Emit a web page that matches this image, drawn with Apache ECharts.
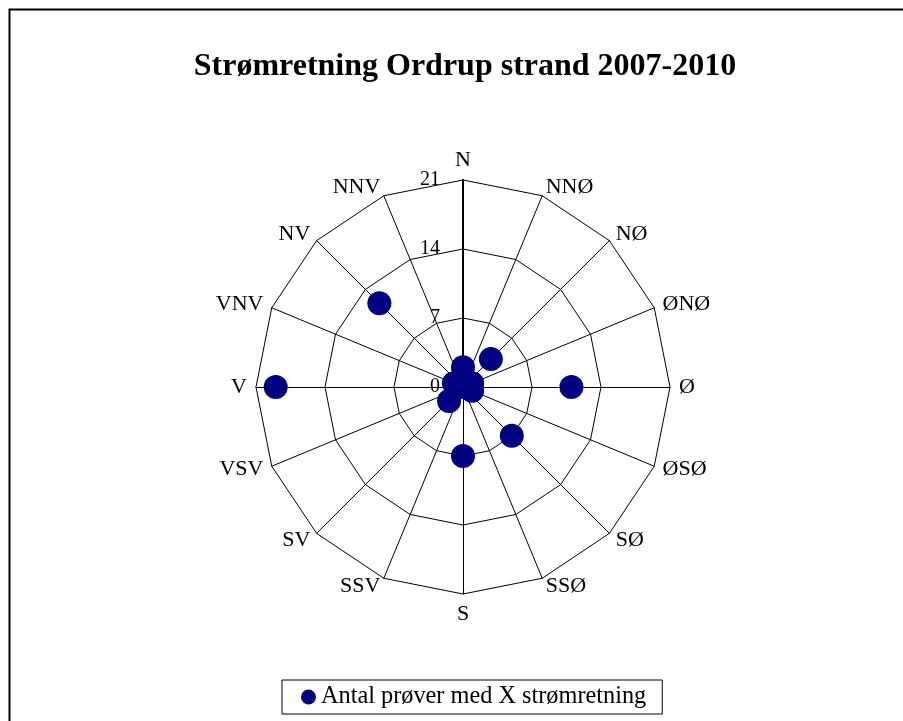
<!DOCTYPE html>
<html>
<head>
<meta charset="utf-8">
<script src="https://cdn.jsdelivr.net/npm/echarts@6/dist/echarts.min.js"></script>
<style>html,body{margin:0;padding:0;background:#fff}#c{width:903px;height:721px}</style>
</head>
<body>
<div id="c"></div>
<script>
// Directions, clockwise from north
var directions = ['N','NNØ','NØ','ØNØ','Ø','ØSØ','SØ','SSØ','S','SSV','SV','VSV','V','VNV','NV','NNV'];
// Number of samples per direction
var counts = [2,0,4,1,11,1,7,0,7,0,2,0,19,1,12,0];
var axisMax = 21;
var tickInterval = 7;
var seriesName = 'Antal prøver med X strømretning';
var titleText = 'Strømretning Ordrup strand 2007-2010';

var FONT = '"Liberation Serif", "Times New Roman", serif';
var CX = 463, CY = 387, R = 207;

// ECharts radar lays indicators counter-clockwise; reorder so they run clockwise
var order = [0];
for (var i = directions.length - 1; i >= 1; i--) order.push(i);
var indicators = order.map(function (k) { return { name: directions[k], max: axisMax, min: 0 }; });
var values = order.map(function (k) { return counts[k]; });

var chart = echarts.init(document.getElementById('c'), null, { renderer: 'canvas' });
chart.setOption({
  backgroundColor: '#fff',
  animation: false,
  graphic: [{
    type: 'rect', silent: true,
    shape: { x: 9.5, y: 9.5, width: 1200, height: 1200 },
    style: { fill: 'none', stroke: '#000', lineWidth: 2 }
  }],
  title: {
    text: titleText,
    left: 465, top: 51, textAlign: 'center', padding: 0,
    textStyle: { fontFamily: FONT, fontSize: 32, fontWeight: 'bold', color: '#000' }
  },
  legend: {
    data: [seriesName],
    left: 282, top: 680,
    padding: [5, 16, 5, 19],
    borderColor: '#000', borderWidth: 1,
    icon: 'circle', itemWidth: 15, itemHeight: 15, itemGap: 0, itemTextGap: 6,
    textStyle: { fontFamily: FONT, fontSize: 24.3, color: '#000' }
  },
  radar: {
    center: [CX, CY], radius: R,
    startAngle: 90,
    shape: 'polygon',
    splitNumber: axisMax / tickInterval,
    indicator: indicators,
    nameGap: 9,
    axisName: { color: '#000', fontFamily: FONT, fontSize: 22 },
    axisLine: { lineStyle: { color: '#000', width: 1 } },
    splitLine: { lineStyle: { color: '#000', width: 1 } },
    splitArea: { show: false },
    axisTick: { show: false },
    axisLabel: { show: false }
  },
  polar: { center: [CX, CY], radius: R },
  angleAxis: { type: 'value', min: 0, max: 360, startAngle: 90, show: false },
  radiusAxis: {
    type: 'value', min: 0, max: axisMax, interval: tickInterval,
    axisLine: { show: true, lineStyle: { color: '#000', width: 2 } },
    axisTick: { show: false },
    splitLine: { show: false },
    splitArea: { show: false },
    axisLabel: { show: true, showMinLabel: true, showMaxLabel: true, color: '#000', fontFamily: FONT, fontSize: 20, margin: 23, padding: [7, 0, 0, 0] }
  },
  series: [{
    name: seriesName,
    type: 'radar',
    symbol: 'circle',
    symbolSize: 24,
    itemStyle: { color: '#000080' },
    lineStyle: { width: 0, opacity: 0 },
    data: [{ value: values, name: seriesName }]
  }]
});
</script>
</body>
</html>
